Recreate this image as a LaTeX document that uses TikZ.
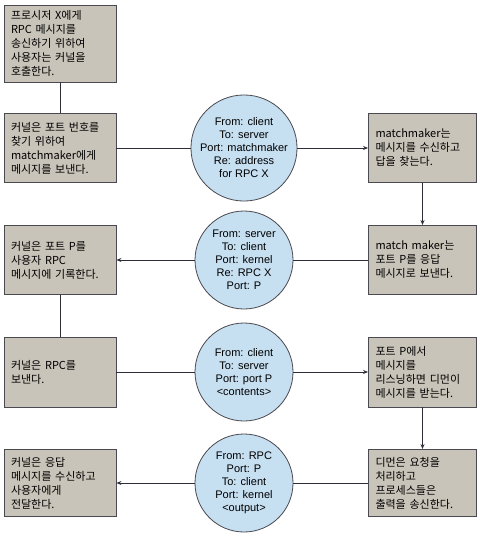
\documentclass[tikz,border=0pt]{standalone}
\usepackage{fontspec}
\setmainfont{Noto Sans CJK KR}
\newfontfamily\latinsans{Liberation Sans}
\usetikzlibrary{arrows.meta}
\definecolor{boxfill}{HTML}{C9C4B9}
\definecolor{boxline}{HTML}{4A4A50}
\definecolor{circfill}{HTML}{C6DFF1}
\definecolor{circline}{HTML}{4A4A50}
\definecolor{conn}{HTML}{2E2E3A}
\begin{document}
\begin{tikzpicture}[x=1pt,y=-1pt,
  msgbox/.style={draw=boxline, line width=0.9pt, fill=boxfill, minimum width=112pt, minimum height=69pt, text width=98pt, align=left, inner xsep=7pt, inner ysep=0pt, font=\fontsize{11}{14}\selectfont},
  msg/.style={circle, draw=circline, line width=0.8pt, fill=circfill, minimum size=98pt, inner sep=0pt, align=center, font=\latinsans\fontsize{11}{13}\selectfont},
  link/.style={draw=conn, line width=0.8pt},
  arr/.style={link, -{Stealth[length=5pt,width=4pt]}}]
\useasboundingbox[fill=white] (0,0) rectangle (494,544);
% left column
\node[msgbox, minimum height=77pt] (L1) at (60,43.5) {프로시저 X에게\\RPC 메시지를\\송신하기 위하여\\사용자는 커널을\\호출한다.};
\node[msgbox] (L2) at (60,148) {커널은 포트 번호를\\찾기 위하여\\matchmaker에게\\메시지를 보낸다.};
\node[msgbox] (L3) at (60,260) {커널은 포트 P를\\사용자 RPC\\메시지에 기록한다.};
\node[msgbox, minimum height=70pt] (L4) at (60,372) {커널은 RPC를\\보낸다.};
\node[msgbox, minimum height=67pt] (L5) at (60,483) {커널은 응답\\메시지를 수신하고\\사용자에게\\전달한다.};
% messages
\node[msg] (C1) at (244,148) {From: client\\To: server\\Port: matchmaker\\Re: address\\for RPC X};
\node[msg] (C2) at (244,260) {From: server\\To: client\\Port: kernel\\Re: RPC X\\Port: P};
\node[msg] (C3) at (244,372) {From: client\\To: server\\Port: port P\\<contents>};
\node[msg] (C4) at (244,483) {From: RPC\\Port: P\\To: client\\Port: kernel\\<output>};
% right column
\node[msgbox, minimum width=108pt, text width=94pt] (R1) at (422.5,148) {matchmaker는\\메시지를 수신하고\\답을 찾는다.};
\node[msgbox, minimum width=108pt, text width=94pt] (R2) at (422.5,260) {match maker는\\포트 P를 응답\\메시지로 보낸다.};
\node[msgbox, minimum width=108pt, text width=94pt, minimum height=70pt] (R3) at (422.5,372) {포트 P에서\\메시지를\\리스닝하면 디먼이\\메시지를 받는다.};
\node[msgbox, minimum width=108pt, text width=94pt, minimum height=67pt] (R4) at (422.5,483) {디먼은 요청을\\처리하고\\프로세스들은\\출력을 송신한다.};
% connectors
\draw[link] (L1.south) -- (L2.north);
\draw[link] (L2.east) -- (C1.west);
\draw[arr] (C1.east) -- (R1.west);
\draw[arr] (R1.south) -- (R2.north);
\draw[link] (R2.west) -- (C2.east);
\draw[arr] (C2.west) -- (L3.east);
\draw[link] (L3.south) -- (L4.north);
\draw[link] (L4.east) -- (C3.west);
\draw[arr] (C3.east) -- (R3.west);
\draw[arr] (R3.south) -- (R4.north);
\draw[link] (R4.west) -- (C4.east);
\draw[arr] (C4.west) -- (L5.east);
\end{tikzpicture}
\end{document}
